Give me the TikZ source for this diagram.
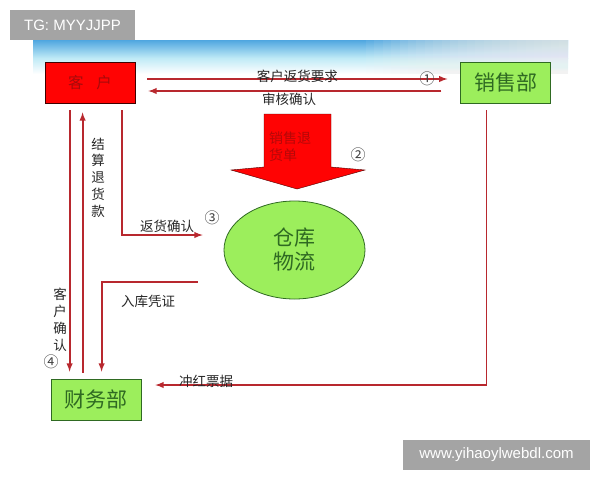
\documentclass[tikz,border=0pt]{standalone}
\usepackage{fontspec}
\setmainfont{Liberation Sans}
\newfontfamily\cjk{Noto Sans CJK SC}
\usetikzlibrary{positioning, arrows, calc, shapes.geometric}

\definecolor{boxred}{HTML}{FF0303}
\definecolor{darkred}{HTML}{A80A0A}
\definecolor{linered}{HTML}{B8282E}
\definecolor{leafgreen}{HTML}{9CEE5C}
\definecolor{darkgreen}{HTML}{2F6A22}
\definecolor{tggray}{HTML}{A4A4A4}
\definecolor{bandblue}{HTML}{4FA6E0}
\definecolor{bandcyan}{HTML}{BFEAF6}

\tikzset{
  dept/.style={rectangle, draw=darkgreen, thick, fill=leafgreen, text=darkgreen,
    minimum width=90, minimum height=41, font=\cjk\fontsize{21}{21}\selectfont},
  flow/.style={->, draw=linered, line width=1.8pt},
  lbl/.style={font=\cjk\fontsize{13.5}{14}\selectfont, text=black!85, inner sep=0pt},
  vlbl/.style={lbl, align=center, font=\cjk\fontsize{13.5}{16.8}\selectfont},
  num/.style={font=\cjk\fontsize{15}{15}\selectfont, text=black!75, inner sep=0pt},
  wmark/.style={fill=tggray, text=white, inner sep=0pt, font=\fontsize{15}{15}\selectfont}
}

\begin{document}
\begin{tikzpicture}[x=1pt, y=-1pt, >=latex]
  \useasboundingbox (0,0) rectangle (600,480);
  % band at the top of the picture
  \shade[top color=bandblue, bottom color=bandcyan] (33,40) rectangle (568,58);
  \shade[top color=bandcyan, bottom color=white] (33,58) rectangle (568,74);
  \foreach \i in {0,...,23}
    \fill[white!90!gray, opacity=0.07] (366+\i*8.4,40) rectangle (568,74);

  % watermarks
  \node[wmark, minimum width=125, minimum height=30] (tg) at (72.5,25) {TG: MYYJJPP};
  \node[wmark, minimum width=187, minimum height=30] (www) at (496.5,455) {www.yihaoylwebdl.com};

  % departments
  \node[rectangle, draw=black!75!red, thick, fill=boxred, text=darkred,
    minimum width=90, minimum height=41, font=\cjk\fontsize{15.5}{16}\selectfont]
    (kehu) at (90,82.5) {客\hspace{13pt}户};
  \node[dept] (xiaoshou) [right=325pt of kehu.east, anchor=west] {销售部};
  \node[dept] (caiwu) at (96,399.5) {财务部};
  \node[ellipse, draw=darkgreen, thick, fill=leafgreen, text=darkgreen,
    minimum width=141, minimum height=98, inner sep=0pt, align=center,
    font=\cjk\fontsize{21}{24}\selectfont] (cangku) at (294.5,250) {仓库\\物流};

  % big arrow
  \fill[boxred, draw=black!70!red, thin] (264,114) -- (331,114) -- (331,167) -- (365,170)
    -- (297,189) -- (231,170) -- (264,167) -- cycle;
  \node[lbl, align=left, text=darkred!85!red, font=\cjk\fontsize{14}{17}\selectfont,
    anchor=north west] (tuihuodan) at (269,132) {销售退\\货单};

  % connectors
  \draw[flow] ($(kehu.east)+(12,-3.5)$) -- ($(xiaoshou.west)+(-13,-3.5)$)
    node[lbl, pos=0.5, yshift=2.5pt] (yaoqiu) {客户返货要求};
  \draw[flow] ($(xiaoshou.west)+(-19,8.5)$) -- ($(kehu.east)+(13,8.5)$)
    node[lbl, pos=0.52, yshift=-8pt] (shenhe) {审核确认};
  \draw[flow] ($(kehu.south west)+(25,7)$) -- ($(caiwu.north west)+(19,-7)$);
  \draw[flow] ($(caiwu.north west)+(32,-6)$) -- ($(kehu.south west)+(38,9)$);
  \draw[flow] ($(kehu.south west)+(77,7)$) |- ($(cangku.west)+(-21,-15)$);
  \draw[flow] ($(cangku.west)+(-26,32)$) -| ($(caiwu.north west)+(51,-7)$);
  \draw[flow] ($(xiaoshou.south west)+(26,7)$) |- ($(caiwu.east)+(14,-14.5)$);

  % labels
  \node[vlbl] (jiesuan) at (98,177.5) {结\\算\\退\\货\\款};
  \node[vlbl] (queren) at (60,320) {客\\户\\确\\认};
  \node[lbl] (fanhuo) at (167,226) {返货确认};
  \node[lbl] (ruku) at (148,301) {入库凭证};
  \node[lbl] (chonghong) at (206,381) {冲红票据};

  % step numbers
  \node[num] (n1) at (427,79) {①};
  \node[num] (n2) at (358,155) {②};
  \node[num] (n3) at (212,218) {③};
  \node[num] (n4) at (51,362) {④};
\end{tikzpicture}
\end{document}
